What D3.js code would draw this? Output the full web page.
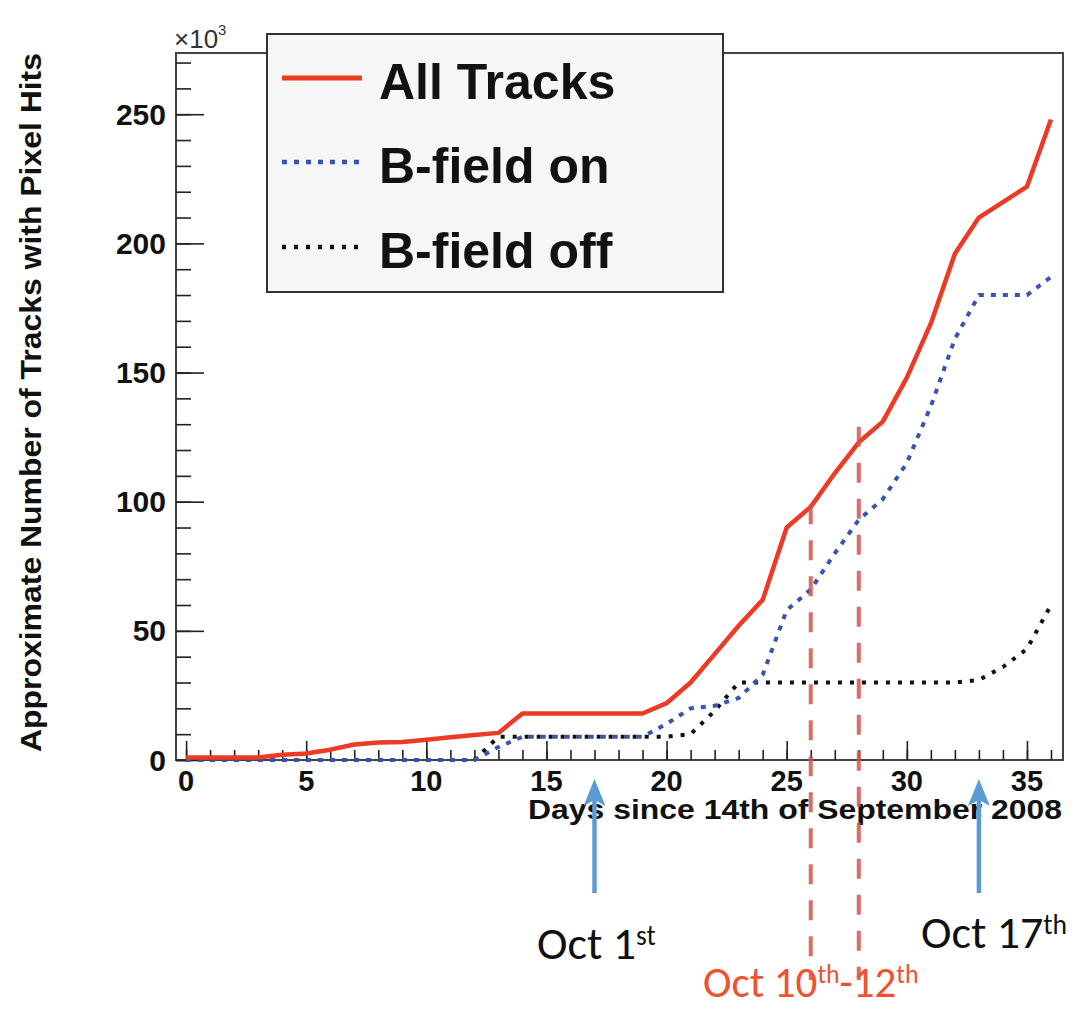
<!DOCTYPE html>
<html>
<head>
<meta charset="utf-8">
<script src="https://cdn.jsdelivr.net/npm/d3@7"></script>
<style>
  html, body { margin: 0; padding: 0; background: #fff; }
  svg { display: block; }
</style>
</head>
<body>
<div id="chart"></div>
<script>
// values (x 10^3 tracks per day)
const days = [0, 1, 2, 3, 4, 5, 6, 7, 8, 9, 10, 11, 12, 13, 14, 15, 16, 17, 18, 19,
  20, 21, 22, 23, 24, 25, 26, 27, 28, 29, 30, 31, 32, 33, 34, 35, 36];
const allTracks = [1, 1, 1, 1, 2, 2.5, 4, 6, 6.8, 7, 7.8, 8.8, 9.7, 10.5, 18, 18, 18, 18, 18, 18,
  22, 30, 41, 52, 62, 90, 98, 111, 123, 131, 148, 169, 196, 210, 216, 222, 248];
const bFieldOn = [0, 0, 0, 0, 0, 0, 0, 0, 0, 0, 0, 0, 0, 5, 9, 9, 9, 9, 9, 9,
  14, 20, 21, 24, 33, 58, 66, 80, 93, 101, 115, 137, 163, 180, 180, 180, 187];
const bFieldOff = [0, 0, 0, 0, 0, 0, 0, 0, 0, 0, 0, 0, 0, 9, 9, 9, 9, 9, 9, 9,
  9, 10, 19, 30, 30, 30, 30, 30, 30, 30, 30, 30, 30, 31, 36, 43, 60];

const seriesNames = ['All Tracks', 'B-field on', 'B-field off'];
const xTicks = [0, 5, 10, 15, 20, 25, 30, 35];
const yTicks = [0, 50, 100, 150, 200, 250];

// annotations
const arrowDays = [17, 33];
const markDays = [26, 28];
const markTops = [99, 129];

const width = 1075;
const height = 1011;
const plot = { left: 176, right: 1063, top: 53, bottom: 760 };

const svg = d3.select('#chart')
  .append('svg')
  .attr('width', width)
  .attr('height', height);

svg.append('rect').attr('width', width).attr('height', height).attr('fill', '#fff');

const x = d3.scaleLinear().domain([-0.42, 36.5]).range([plot.left, plot.right]);
const y = d3.scaleLinear().domain([0, 273.7]).range([plot.bottom, plot.top]);

const axisColor = '#444';
const boldFont = '"Liberation Sans", Arial, Helvetica, sans-serif';

// frame
svg.append('rect')
  .attr('x', plot.left)
  .attr('y', plot.top)
  .attr('width', plot.right - plot.left)
  .attr('height', plot.bottom - plot.top)
  .attr('fill', 'none')
  .attr('stroke', axisColor)
  .attr('stroke-width', 2);

// x axis: major ticks + minor ticks pointing up
const xAxis = svg.append('g').attr('transform', `translate(0, ${plot.bottom})`);
xAxis.call(d3.axisTop(x).tickValues(d3.range(0, 37, 1)).tickSize(10).tickFormat(''));
xAxis.append('g').call(d3.axisTop(x).tickValues(xTicks).tickSize(19).tickFormat(''));
xAxis.selectAll('.domain').remove();
xAxis.selectAll('line').attr('stroke', '#222').attr('stroke-width', 1.6);

svg.append('g')
  .selectAll('text')
  .data(xTicks)
  .join('text')
  .attr('x', d => x(d))
  .attr('y', 791)
  .attr('text-anchor', 'middle')
  .attr('font-family', boldFont)
  .attr('font-weight', 'bold')
  .attr('font-size', 29)
  .attr('fill', '#111')
  .text(d => d);

// y axis: major ticks + minor ticks pointing right
const yAxis = svg.append('g').attr('transform', `translate(${plot.left}, 0)`);
yAxis.call(d3.axisRight(y).tickValues(d3.range(0, 271, 10)).tickSize(15).tickFormat(''));
yAxis.append('g').call(d3.axisRight(y).tickValues(yTicks).tickSize(28).tickFormat(''));
yAxis.selectAll('.domain').remove();
yAxis.selectAll('line').attr('stroke', '#222').attr('stroke-width', 1.6);

svg.append('g')
  .selectAll('text')
  .data(yTicks)
  .join('text')
  .attr('x', 166)
  .attr('y', d => y(d) + 10.5)
  .attr('text-anchor', 'end')
  .attr('font-family', boldFont)
  .attr('font-weight', 'bold')
  .attr('font-size', 30)
  .attr('fill', '#111')
  .text(d => d);

// x10^3 exponent
const expo = svg.append('text')
  .attr('x', 174)
  .attr('y', 48)
  .attr('font-family', boldFont)
  .attr('font-size', 26)
  .attr('fill', '#333');
expo.append('tspan').text('\u00d710');
expo.append('tspan').attr('dy', -13).attr('font-size', 15).text('3');

// axis titles
svg.append('text')
  .attr('x', 1062)
  .attr('y', 819)
  .attr('text-anchor', 'end')
  .attr('font-family', boldFont)
  .attr('font-weight', 'bold')
  .attr('font-size', 28)
  .attr('textLength', 534)
  .attr('lengthAdjust', 'spacingAndGlyphs')
  .attr('fill', '#111')
  .text('Days since 14th of September 2008');

svg.append('text')
  .attr('transform', 'translate(41, 752) rotate(-90)')
  .attr('x', 0)
  .attr('y', 0)
  .attr('font-family', boldFont)
  .attr('font-weight', 'bold')
  .attr('font-size', 30)
  .attr('textLength', 699)
  .attr('lengthAdjust', 'spacingAndGlyphs')
  .attr('fill', '#111')
  .text('Approximate Number of Tracks with Pixel Hits');

// series lines
const seriesStyle = [
  { values: allTracks, color: '#ec3a25', width: 4.5, dash: null },
  { values: bFieldOn, color: '#3a52b2', width: 4, dash: '5,7' },
  { values: bFieldOff, color: '#111', width: 4, dash: '4,8' }
];

const line = d3.line()
  .x(d => x(d[0]))
  .y(d => y(d[1]));

const lines = svg.append('g');
// draw the dotted ones under the solid red one, as in the picture
[2, 1, 0].forEach(i => {
  const s = seriesStyle[i];
  lines.append('path')
    .datum(days.map((d, j) => [d, s.values[j]]))
    .attr('d', line)
    .attr('fill', 'none')
    .attr('stroke', s.color)
    .attr('stroke-width', s.width)
    .attr('stroke-dasharray', s.dash)
    .attr('stroke-linejoin', 'round');
});

// legend
const legend = svg.append('g');
legend.append('rect')
  .attr('x', 267)
  .attr('y', 34)
  .attr('width', 456)
  .attr('height', 258)
  .attr('fill', '#f6f6f6')
  .attr('stroke', '#333')
  .attr('stroke-width', 2);

const legendRows = [78, 162, 247];
seriesNames.forEach((name, i) => {
  const s = seriesStyle[i];
  legend.append('line')
    .attr('x1', 282)
    .attr('x2', 362)
    .attr('y1', legendRows[i])
    .attr('y2', legendRows[i])
    .attr('stroke', s.color)
    .attr('stroke-width', s.width + 0.5)
    .attr('stroke-dasharray', s.dash);
  legend.append('text')
    .attr('x', 379)
    .attr('y', legendRows[i] + 21)
    .attr('font-family', boldFont)
    .attr('font-weight', 'bold')
    .attr('font-size', 50)
    .attr('fill', '#111')
    .text(name);
});

// red dashed markers for Oct 10th-12th
svg.append('g')
  .selectAll('line')
  .data(markDays)
  .join('line')
  .attr('x1', d => x(d))
  .attr('x2', d => x(d))
  .attr('y1', (d, i) => y(markTops[i]))
  .attr('y2', 980)
  .attr('stroke', '#d4534a')
  .attr('stroke-opacity', 0.85)
  .attr('stroke-width', 4)
  .attr('stroke-dasharray', '20,16');

// blue arrows
const arrows = svg.append('g');
arrowDays.forEach(d => {
  const ax = x(d);
  arrows.append('line')
    .attr('x1', ax).attr('x2', ax)
    .attr('y1', 893).attr('y2', 800)
    .attr('stroke', '#5b9bd5')
    .attr('stroke-width', 4.5);
  arrows.append('path')
    .attr('d', `M${ax - 11},806 L${ax},779 L${ax + 11},806 L${ax + 2},801 L${ax - 2},801 Z`)
    .attr('fill', '#5b9bd5');
});

// date annotations
const noteFont = 'Carlito, Lato, "Open Sans", sans-serif';
function note(xPos, yPos, size, parts, color) {
  const t = svg.append('text')
    .attr('x', xPos)
    .attr('y', yPos)
    .attr('font-family', noteFont)
    .attr('font-size', size)
    .attr('fill', color);
  parts.forEach(p => {
    if (p.sup) {
      t.append('tspan').attr('dy', -14).attr('font-size', size * 0.6).text(p.text);
    } else {
      t.append('tspan').attr('dy', p.after ? 14 : 0).text(p.text);
    }
  });
}
note(537, 959, 46, [{ text: 'Oct 1' }, { text: 'st', sup: true }], '#111');
note(921, 948, 46, [{ text: 'Oct 17' }, { text: 'th', sup: true }], '#111');
note(703, 997, 43, [{ text: 'Oct 10' }, { text: 'th', sup: true }, { text: '-12', after: true }, { text: 'th', sup: true }], '#ef5230');
</script>
</body>
</html>
